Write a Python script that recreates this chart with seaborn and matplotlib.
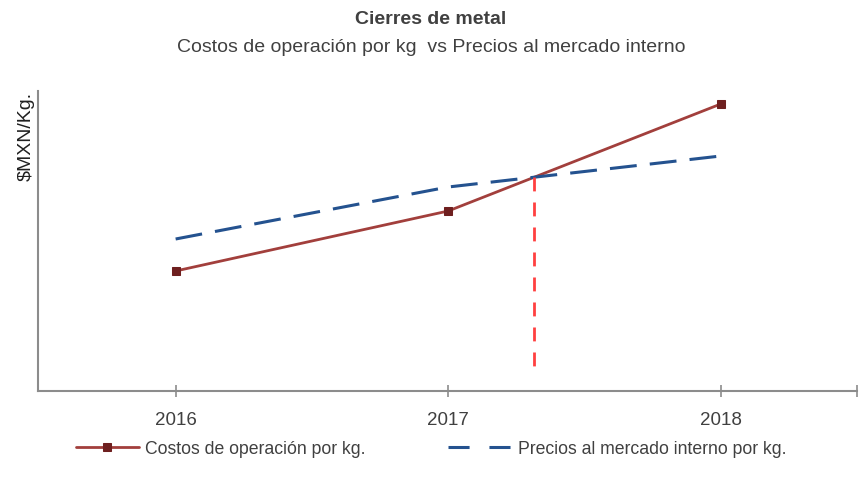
import pandas as pd
import numpy as np
import matplotlib
matplotlib.use("Agg")
import matplotlib.pyplot as plt
import seaborn as sns

# datos (unidades relativas $MXN/Kg.)
years = ["2016", "2017", "2018"]
costos = [120, 180, 287]
precios = [152, 204, 235]

sns.set_style("white")
plt.rcParams['font.family'] = ['Liberation Sans', 'DejaVu Sans']

df = pd.DataFrame({"pos": range(len(years)), "costos": costos, "precios": precios})

fig = plt.figure(figsize=(8.62, 4.85), dpi=100)
ax = fig.add_axes([38 / 862, 1 - 392 / 485, (857 - 38) / 862, 300 / 485])

sns.lineplot(data=df, x="pos", y="costos", ax=ax, color="#A23F3C", linewidth=2.0,
             marker="s", markersize=6, markerfacecolor="#6E1F1F", markeredgecolor="#6E1F1F",
             label="Costos de operación por kg.")
sns.lineplot(data=df, x="pos", y="precios", ax=ax, color="#24528F", linewidth=2.2,
             dashes=False, label="Precios al mercado interno por kg.")
ax.lines[-1].set_dashes([8.8, 4.3])

# punto de cruce entre 2017 y 2018
c1, c2 = costos[1], costos[2]
p1, p2 = precios[1], precios[2]
t = (p1 - c1) / ((c2 - c1) - (p2 - p1))
xc = 1 + t
yc = c1 + t * (c2 - c1)
ax.plot([xc, xc], [yc, 20], color="#FF4040", linewidth=2.0, dashes=[5, 4])

ax.set_xlim(-0.505, 2.5)
ax.set_ylim(0, 300)
ax.set_xticks([0, 1, 2, 2.5])
ax.set_xticklabels(years + [""], fontsize=13.5, color="#404040")
ax.set_yticks([])
ax.tick_params(axis="x", bottom=True, direction="inout", length=9, width=1.2,
               color="#8c8c8c", pad=10)
ax.set_xlabel("")
ax.set_ylabel("\\$MXN/Kg.", fontsize=14, color="#202020", loc="top", labelpad=2)

for s in ["top", "right"]:
    ax.spines[s].set_visible(False)
for s in ["left", "bottom"]:
    ax.spines[s].set_color("#8c8c8c")
    ax.spines[s].set_linewidth(1.5)

handles, labels = ax.get_legend_handles_labels()
ax.get_legend().remove()
leg = fig.legend(handles, labels, loc="center", bbox_to_anchor=(0.5, 1 - 450 / 485), ncol=2,
                 frameon=False, fontsize=12.7, handlelength=3.6, handletextpad=0.34,
                 columnspacing=4.7, labelcolor="#404040")
leg.get_lines()[1].set_dashes([6.9, 6.5])

fig.text(0.5, 1 - 20 / 485, "Cierres de metal", ha="center", va="center",
         fontsize=14, fontweight="bold", color="#404040")
fig.text(0.5, 1 - 48 / 485, "Costos de operación por kg  vs Precios al mercado interno",
         ha="center", va="center", fontsize=14, color="#404040")

fig.savefig("out.png", dpi=100)
